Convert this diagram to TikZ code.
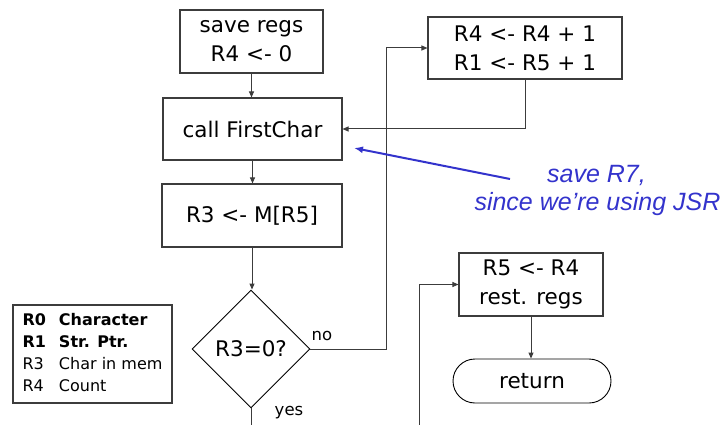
\documentclass[tikz,border=0pt]{standalone}
\usepackage{fontspec}
\setmainfont{DejaVu Sans}
\newfontfamily\notefont{Liberation Sans}
\usetikzlibrary{arrows.meta,shapes.geometric}

\definecolor{linegray}{RGB}{60,60,60}
\definecolor{noteblue}{RGB}{51,51,204}

\begin{document}
\begin{tikzpicture}[x=1pt,y=-1pt,
  box/.style={draw=linegray, line width=1.1pt, inner sep=0pt, align=center,
    font=\fontsize{21.5}{29}\selectfont},
  decision/.style={diamond, draw=black, line width=0.9pt, inner sep=0pt,
    minimum width=118pt, minimum height=118pt, font=\fontsize{21.5}{29}\selectfont},
  terminal/.style={draw=black, line width=0.9pt, rounded corners=22pt, inner sep=0pt,
    minimum width=158pt, minimum height=44pt, font=\fontsize{21.5}{29}\selectfont},
  conn/.style={draw=linegray, line width=1pt},
  flow/.style={conn, -{Triangle[length=6pt,width=5pt]}},
  tag/.style={inner sep=0pt, font=\fontsize{16.5}{20}\selectfont},
  note/.style={inner sep=0pt, text=noteblue, font=\notefont\itshape\fontsize{25}{28}\selectfont},
  pointer/.style={draw=noteblue, line width=2pt, -{Latex[length=9pt,width=7pt]}}
]
\useasboundingbox (0,0) rectangle (725,425);

% main column
\node[box, minimum width=143pt, minimum height=63pt] (save) at (251.5,41.5) {save regs\\R4 <- 0};
\node[box, minimum width=179pt, minimum height=62pt] (call) at (252.5,129) {call FirstChar};
\node[box, minimum width=180pt, minimum height=63pt] (load) at (252,215.5) {R3 <- M[R5]};
\node[decision] (test) at (251,349) {R3=0?};

% right column
\node[box, minimum width=194pt, minimum height=62pt] (incr) at (525,48) {R4 <- R4 + 1\\R1 <- R5 + 1};
\node[box, minimum width=144pt, minimum height=63pt] (fin) at (531,284.5) {R5 <- R4\\rest. regs};
\node[terminal] (ret) at (532,381) {return};

% register legend
\node[draw=linegray, line width=1.1pt, minimum width=159pt, minimum height=98pt, inner sep=0pt,
  font=\fontsize{16}{22.3}\selectfont] (legend) at (92.5,354)
  {\begin{tabular}{@{}l@{\hspace{13pt}}l@{}}
    \textbf{R0} & \textbf{Character}\\
    \textbf{R1} & \textbf{Str. Ptr.}\\
    R3 & Char in mem\\
    R4 & Count
  \end{tabular}};

% branch labels
\node[tag] (nolabel) at (322,336) {no};
\node[tag] (yeslabel) at (289,413) {yes};

% annotation
\node[note, anchor=base] (note1) at (596.5,182) {save R7,};
\node[note, anchor=base] (note2) at (597.5,210) {since we’re using JSR};

% helper points for the routed connectors
\coordinate (nox) at (386,0);
\coordinate (yesend) at (251,425);
\coordinate (fromyes) at (419,425);
\coordinate (notetail) at (510,179);
\coordinate (notetip) at (354,148);

% connectors
\draw[flow] (save.south) -- (save.south |- call.north);
\draw[flow] (call.south) -- (call.south |- load.north);
\draw[flow] (load.south) -- (load.south |- test.north);
\draw[flow] (test.east) -- (test.east -| nox) |- (incr.west);
\draw[flow] (incr.south) |- (call.east);
\draw[conn] (test.south) -- (yesend);
\draw[flow] (fromyes) |- (fin.west);
\draw[flow] (fin.south) -- (fin.south |- ret.north);
\draw[pointer] (notetail) -- (notetip);
\end{tikzpicture}
\end{document}
